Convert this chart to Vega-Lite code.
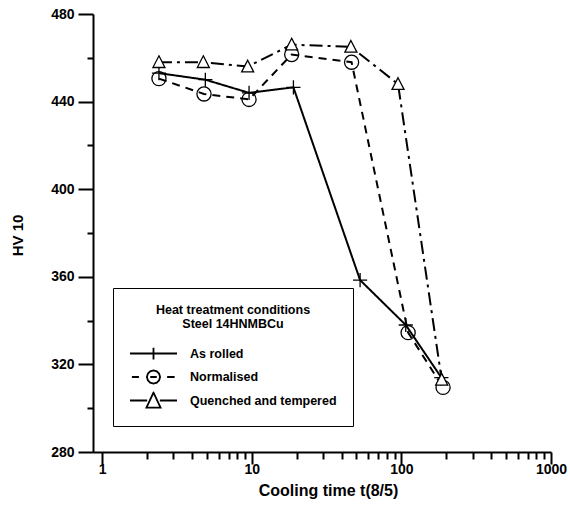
{
  "$schema": "https://vega.github.io/schema/vega-lite/v6.json",
  "width": 458,
  "height": 438,
  "autosize": {"type": "none"},
  "padding": {"left": 93, "top": 14, "right": 19, "bottom": 55},
  "background": "white",
  "config": {"view": {"stroke": null}, "font": "Liberation Sans"},
  "data": {
    "values": [
      {"series": "As rolled", "t": 2.4, "hv": 453},
      {"series": "As rolled", "t": 4.9, "hv": 450},
      {"series": "As rolled", "t": 9.6, "hv": 444},
      {"series": "As rolled", "t": 19, "hv": 446.5},
      {"series": "As rolled", "t": 53, "hv": 358.5},
      {"series": "As rolled", "t": 107, "hv": 338},
      {"series": "As rolled", "t": 185, "hv": 314},
      {"series": "Normalised", "t": 2.4, "hv": 450.5},
      {"series": "Normalised", "t": 4.8, "hv": 443.5},
      {"series": "Normalised", "t": 9.6, "hv": 441},
      {"series": "Normalised", "t": 18.5, "hv": 461.5},
      {"series": "Normalised", "t": 46.5, "hv": 458},
      {"series": "Normalised", "t": 111, "hv": 334.5},
      {"series": "Normalised", "t": 190, "hv": 309.5},
      {"series": "Quenched and tempered", "t": 2.4, "hv": 458},
      {"series": "Quenched and tempered", "t": 4.75, "hv": 458},
      {"series": "Quenched and tempered", "t": 9.4, "hv": 456},
      {"series": "Quenched and tempered", "t": 18.5, "hv": 466},
      {"series": "Quenched and tempered", "t": 46, "hv": 465},
      {"series": "Quenched and tempered", "t": 95, "hv": 448},
      {"series": "Quenched and tempered", "t": 186, "hv": 313}
    ]
  },
  "encoding": {
    "x": {
      "field": "t",
      "type": "quantitative",
      "scale": {"type": "log", "domain": [0.87, 1000], "nice": false},
      "axis": {
        "title": "Cooling time t(8/5)",
        "values": [1, 2, 3, 4, 5, 6, 7, 8, 9, 10, 20, 30, 40, 50, 60, 70, 80, 90, 100, 200, 300, 400, 500, 600, 700, 800, 900, 1000],
        "format": "d",
        "labelExpr": "datum.value === 1 || datum.value === 10 || datum.value === 100 || datum.value === 1000 ? datum.label : ''",
        "tickSize": {"condition": {"test": "datum.value === 1 || datum.value === 10 || datum.value === 100 || datum.value === 1000", "value": 12}, "value": 7},
        "labelPadding": -2,
        "labelFlush": false,
        "labelOverlap": false,
        "labelBound": false,
        "labelFontSize": 14,
        "labelFontWeight": "bold",
        "labelColor": "black",
        "domainColor": "black",
        "domainWidth": 2,
        "tickColor": "black",
        "tickWidth": 2,
        "grid": false,
        "titleFontSize": 16,
        "titleFontWeight": "bold",
        "titleColor": "black",
        "titleX": 235,
        "titleY": 38,
        "titleAlign": "center",
        "titleBaseline": "middle"
      }
    },
    "y": {
      "field": "hv",
      "type": "quantitative",
      "scale": {"domain": [280, 480], "nice": false, "zero": false},
      "axis": {
        "title": "HV 10",
        "values": [280, 300, 320, 340, 360, 380, 400, 420, 440, 460, 480],
        "labelExpr": "datum.value % 40 === 0 ? datum.label : ''",
        "tickSize": {"condition": {"test": "datum.value % 40 === 0", "value": 15}, "value": 6},
        "labelPadding": 4,
        "labelOverlap": false,
        "labelFontSize": 14,
        "labelFontWeight": "bold",
        "labelColor": "black",
        "domainColor": "black",
        "domainWidth": 2,
        "tickColor": "black",
        "tickWidth": 2,
        "grid": false,
        "titleFontSize": 15,
        "titleFontWeight": "bold",
        "titleColor": "black",
        "titleX": -76,
        "titleY": 221,
        "titleAngle": -90,
        "titleAlign": "center",
        "titleBaseline": "middle"
      }
    }
  },
  "layer": [
    {
      "mark": {"type": "line", "color": "black", "strokeWidth": 2},
      "encoding": {
        "strokeDash": {
          "field": "series",
          "type": "nominal",
          "scale": {"range": [[1, 0], [8, 6], [13, 5, 3, 5]]},
          "legend": null
        }
      }
    },
    {
      "mark": {"type": "point", "filled": true, "stroke": "black", "strokeWidth": 1.3, "size": 200, "opacity": 1},
      "encoding": {
        "fill": {
          "condition": {"test": "datum.series === 'Quenched and tempered'", "value": "white"},
          "value": "transparent"
        },
        "shape": {
          "field": "series",
          "type": "nominal",
          "scale": {"range": ["M-1,0H1M0,-1V1", "circle", "M0,-0.9L0.85,0.75L-0.85,0.75Z"]},
          "legend": null
        }
      }
    },
    {
      "transform": [{"filter": "false"}],
      "mark": {"type": "point", "filled": false, "color": "black", "strokeWidth": 1.8, "opacity": 1},
      "encoding": {
        "shape": {
          "field": "series",
          "type": "nominal",
          "scale": {
            "domain": ["As rolled", "Normalised", "Quenched and tempered"],
            "range": [
              "M-1,0H1M0,-0.25V0.25",
              "M-0.92,0H-0.62M0.58,0H0.9M-0.28,0L-0.24,-0.14L-0.14,-0.24L0,-0.28L0.14,-0.24L0.24,-0.14L0.28,0L0.24,0.14L0.14,0.24L0,0.28L-0.14,0.24L-0.24,0.14ZM-0.14,0H0.14",
              "M-1,0H-0.27M0.27,0H1M0,-0.34L0.3,0.3L-0.3,0.3Z"
            ]
          },
          "legend": {
            "title": ["Heat treatment conditions", "Steel 14HNMBCu"],
            "orient": "none",
            "legendX": 20,
            "legendY": 274,
            "direction": "vertical",
            "titleAnchor": "middle",
            "titleAlign": "center",
            "titleFontSize": 12.5,
            "titleFontWeight": "bold",
            "titleColor": "black",
            "titleLineHeight": 14,
            "titlePadding": 14,
            "labelFontSize": 12.5,
            "labelFontWeight": "bold",
            "labelColor": "black",
            "labelOffset": 12,
            "labelLimit": 300,
            "symbolSize": 2209,
            "symbolStrokeColor": "black",
            "symbolStrokeWidth": 1.8,
            "clipHeight": 18,
            "rowPadding": 5.5,
            "padding": 16,
            "strokeColor": "black",
            "fillColor": "white"
          }
        }
      }
    }
  ],
  "resolve": {"scale": {"shape": "independent"}}
}
